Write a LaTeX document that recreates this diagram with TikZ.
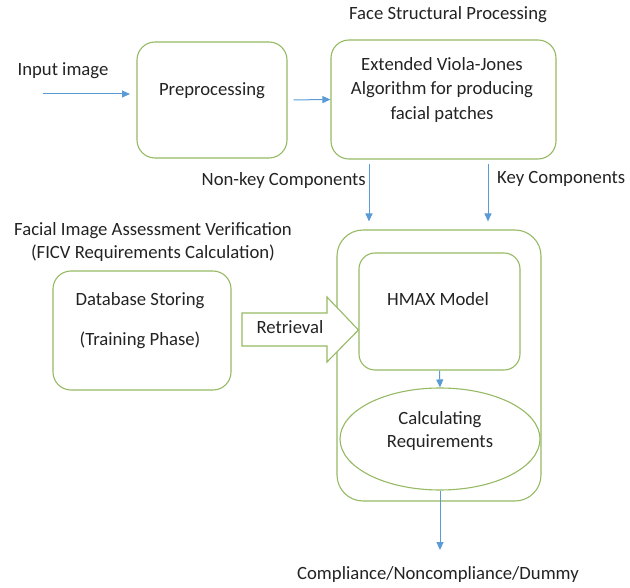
\documentclass[tikz,border=0pt]{standalone}
\usepackage{fontspec}
\setmainfont{Carlito}
\usetikzlibrary{arrows.meta,shapes.geometric}
\definecolor{bxgreen}{RGB}{150,185,100}
\definecolor{arblue}{RGB}{91,155,213}
\definecolor{txtc}{RGB}{35,35,35}
\begin{document}
\begin{tikzpicture}[x=1pt,y=-1pt,
  box/.style={draw=bxgreen, line width=1.1pt, rounded corners=18pt, inner sep=0pt},
  txt/.style={text=txtc, font=\fontsize{18.7}{22}\selectfont, inner sep=0pt, anchor=mid},
  arr/.style={draw=arblue, line width=1pt, -{Triangle[length=8pt,width=7pt]}}]
\useasboundingbox (0,0) rectangle (630,588);
% top row
\node[txt] (title) at (448,17) {Face Structural Processing};
\node[txt] (inlab) at (63,73) {Input image};
\coordinate (in0) at (43,94);
\coordinate (in1) at (130,94);
\draw[arr] (in0) -- (in1);
\node[box, minimum width=150pt, minimum height=116pt] (pre) at (212,100) {};
\node[txt] (pret) at (212,93) {Preprocessing};
\node[box, minimum width=225pt, minimum height=119pt] (vj) at (443.5,99.5) {};
\node[txt] (vj1) at (442,68) {Extended Viola-Jones};
\node[txt] (vj2) at (442,92) {Algorithm for producing};
\node[txt] (vj3) at (442,117) {facial patches};
\draw[arr, shorten <=6pt] (pre.east) -- (vj.west);
% verification block
\node[box, rounded corners=26pt, minimum width=204pt, minimum height=271pt] (outer) at (439,365.5) {};
\coordinate (nkx) at (369,0);
\coordinate (kx) at (488,0);
\draw[arr, shorten <=4pt, shorten >=8pt] (nkx |- vj.south) -- (nkx |- outer.north);
\draw[arr, shorten <=4pt, shorten >=8pt] (kx |- vj.south) -- (kx |- outer.north);
\node[txt, anchor=mid east] (nk) at (366,183) {Non-key Components};
\node[txt, anchor=mid west] (kc) at (497,181) {Key Components};
\node[txt] (fia1) at (153,233) {Facial Image Assessment Verification};
\node[txt] (fia2) at (153,256) {(FICV Requirements Calculation)};
\node[box, minimum width=178pt, minimum height=119pt] (db) at (142,330.5) {};
\node[txt] (db1) at (140,303) {Database Storing};
\node[txt] (db2) at (140,343) {(Training Phase)};
\node[box, rounded corners=16pt, minimum width=161pt, minimum height=117pt] (hm) at (439.5,311.5) {};
\node[txt] (hmt) at (438,303) {HMAX Model};
\draw[draw=bxgreen, line width=1.1pt, line join=miter, fill=white]
  (242,313) -- (327,313) -- (327,297) -- (hm.west |- 0,330) -- (327,362) -- (327,346) -- (242,346) -- cycle;
\node[txt] (retr) at (290,331) {Retrieval};
\node[draw=bxgreen, line width=1.1pt, ellipse, minimum width=200pt, minimum height=102pt, inner sep=0pt] (calc) at (440,439) {};
\node[txt] (calc1) at (440,422) {Calculating};
\node[txt] (calc2) at (440,445) {Requirements};
\draw[arr] (hm.south) -- (calc.north);
\coordinate (resin) at (440,550);
\node[txt] (res) at (438,577) {Compliance/Noncompliance/Dummy};
\draw[arr] (calc.south) -- (calc.south |- resin);
\end{tikzpicture}
\end{document}
